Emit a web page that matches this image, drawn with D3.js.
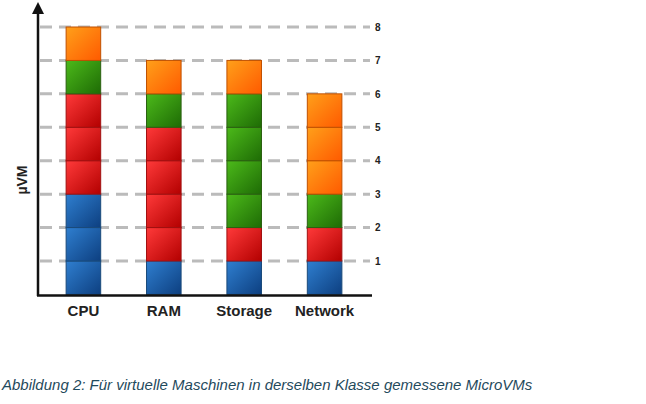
<!DOCTYPE html>
<html><head><meta charset="utf-8">
<script src="https://cdn.jsdelivr.net/npm/d3@7"></script>
<style>body{margin:0;background:#fff}</style>
</head><body>
<script>
// data: blocks per layer, bottom to top
var categories = ["CPU", "RAM", "Storage", "Network"];
var blue = [3, 1, 1, 1];
var red = [3, 4, 1, 1];
var green = [1, 1, 4, 1];
var orange = [1, 1, 1, 3];
var ticks = [1, 2, 3, 4, 5, 6, 7, 8];

var layers = [
  {name: "blue", vals: blue, c1: "#2f7fd0", c2: "#0d3f80", edge: "#1a4a7a"},
  {name: "red", vals: red, c1: "#ff3a3a", c2: "#b30000", edge: "#a01010"},
  {name: "green", vals: green, c1: "#4cba1a", c2: "#1e6b05", edge: "#2a6010"},
  {name: "orange", vals: orange, c1: "#ffa01a", c2: "#ff5a00", edge: "#c05000"}
];

var svg = d3.select("body").append("svg").attr("width", 646).attr("height", 404);
var defs = svg.append("defs");
layers.forEach(function(l) {
  var g = defs.append("linearGradient").attr("id", "g-" + l.name)
    .attr("x1", "0").attr("y1", "0").attr("x2", "1").attr("y2", "1");
  g.append("stop").attr("offset", "0%").attr("stop-color", l.c1);
  g.append("stop").attr("offset", "100%").attr("stop-color", l.c2);
});

var y = d3.scaleLinear().domain([0, 8]).range([294.4, 27]);
var x = d3.scaleBand().domain(categories).range([42, 366]).paddingInner(0.57).paddingOuter(0.3);

// dashed grid
svg.selectAll(".grid").data(ticks).enter().append("line")
  .attr("x1", 40).attr("x2", 370)
  .attr("y1", d => y(d)).attr("y2", d => y(d))
  .attr("stroke", "#bbb").attr("stroke-width", 3).attr("stroke-dasharray", "12,7");

// blocks
categories.forEach(function(cat, i) {
  var base = 0;
  layers.forEach(function(l) {
    for (var k = 0; k < l.vals[i]; k++) {
      svg.append("rect")
        .attr("x", x(cat)).attr("y", y(base + 1))
        .attr("width", x.bandwidth()).attr("height", y(base) - y(base + 1))
        .attr("fill", "url(#g-" + l.name + ")")
        .attr("stroke", l.edge).attr("stroke-width", 1);
      base++;
    }
  });
});

// axes
var yAxis = d3.axisRight(y).tickValues(ticks).tickSize(0).tickPadding(0);
var ya = svg.append("g").attr("transform", "translate(375,0)").call(yAxis);
ya.select(".domain").remove();
ya.selectAll("text").attr("font-family", "Liberation Sans, Arial").attr("font-size", 10).attr("font-weight", "bold").attr("fill", "#222");

svg.append("line").attr("x1", 38).attr("x2", 38).attr("y1", 296).attr("y2", 12).attr("stroke", "#111").attr("stroke-width", 2.5);
svg.append("path").attr("d", "M32,14 L38,2 L44,14 Z").attr("fill", "#111");
svg.append("line").attr("x1", 37).attr("x2", 372).attr("y1", 295.5).attr("y2", 295.5).attr("stroke", "#111").attr("stroke-width", 2.5);

var xAxis = d3.axisBottom(x).tickSize(0).tickPadding(0);
var xa = svg.append("g").attr("transform", "translate(0,305)").call(xAxis);
xa.select(".domain").remove();
xa.selectAll("text").attr("font-family", "Liberation Sans, Arial").attr("font-size", 15).attr("font-weight", "bold").attr("fill", "#222");

svg.append("text").attr("transform", "translate(27,180) rotate(-90)")
  .attr("text-anchor", "middle").attr("font-family", "Liberation Sans, Arial")
  .attr("font-size", 14).attr("font-weight", "bold").attr("fill", "#222").text("µVM");

svg.append("text").attr("x", 2).attr("y", 390)
  .attr("font-family", "Liberation Sans, Arial").attr("font-style", "italic")
  .attr("font-size", 15).attr("fill", "#1f4a5c")
  .text("Abbildung 2: Für virtuelle Maschinen in derselben Klasse gemessene MicroVMs");
</script>
</body></html>
